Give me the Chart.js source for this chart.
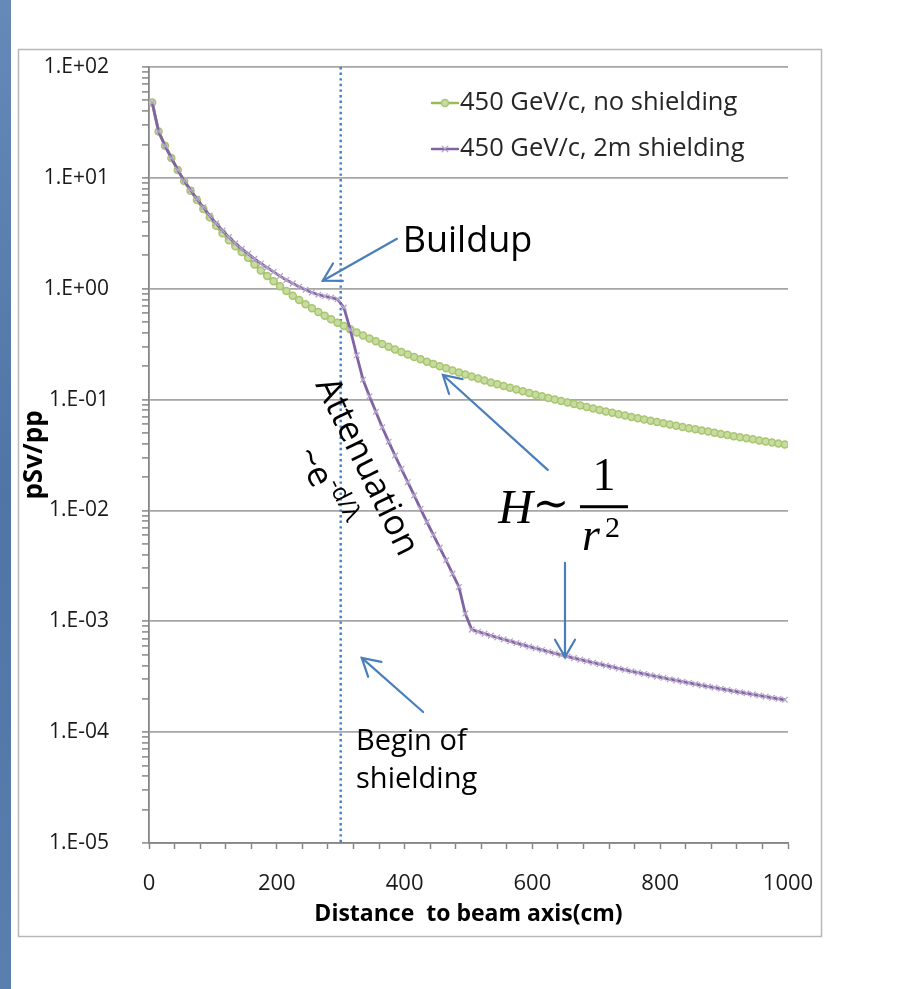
<!DOCTYPE html>
<html><head><meta charset="utf-8">
<script src="https://cdn.jsdelivr.net/npm/chart.js@4.4.1/dist/chart.umd.min.js"></script>
<style>html,body{margin:0;padding:0;background:#fff;}canvas{display:block;}</style>
</head><body>
<canvas id="c" width="900" height="989"></canvas>
<script>
// ---------- data ----------
const distances = [5,15,25,35,45,55,65,75,85,95,105,115,125,135,145,155,165,175,185,195,
205,215,225,235,245,255,265,275,285,295,305,315,325,335,345,355,365,375,385,395,
405,415,425,435,445,455,465,475,485,495,505,515,525,535,545,555,565,575,585,595,
605,615,625,635,645,655,665,675,685,695,705,715,725,735,745,755,765,775,785,795,
805,815,825,835,845,855,865,875,885,895,905,915,925,935,945,955,965,975,985,995];

const noShielding = [47.9,26.2,19.5,15.1,11.8,9.38,7.67,6.32,5.25,4.42,
3.70,3.16,2.74,2.41,2.14,1.90,1.651,1.461,1.301,1.167,
1.051,0.952,0.866,0.791,0.725,0.668,0.616,0.571,0.530,0.493,
0.460,0.430,0.403,0.379,0.356,0.336,0.317,0.2995,0.2834,0.2687,
0.2550,0.2425,0.2307,0.2198,0.2097,0.2002,0.1913,0.1831,0.1754,0.1680,
0.1612,0.1547,0.1487,0.1429,0.1376,0.1324,0.1276,0.1230,0.1187,0.1146,
0.1107,0.1070,0.1034,0.1001,0.0969,0.0939,0.0910,0.0882,0.0855,0.0830,
0.0805,0.0782,0.0760,0.0738,0.0718,0.0698,0.0679,0.0661,0.0644,0.0627,
0.0611,0.0596,0.0580,0.0566,0.0552,0.0539,0.0526,0.0514,0.0502,0.0490,
0.0479,0.0468,0.0458,0.0448,0.0438,0.0428,0.0419,0.0410,0.0402,0.0393];

const shielding2m = [47.9,26.2,19.5,15.1,11.8,9.4,7.76,6.46,5.43,4.57,
3.89,3.35,2.92,2.57,2.29,2.07,1.86,1.69,1.55,1.42,
1.30,1.20,1.117,1.042,0.977,0.925,0.883,0.855,0.832,0.804,
0.676,0.427,0.251,0.151,0.107,0.0776,0.0562,0.0417,0.0313,0.0237,
0.0180,0.01365,0.01035,0.00785,0.00603,0.00462,0.00355,0.00269,0.00204,0.001175,
0.000841,0.000806,0.000774,0.000743,0.000714,0.000687,0.000661,0.000636,0.000613,0.000591,
0.000570,0.000551,0.000532,0.000514,0.000497,0.000481,0.000465,0.000451,0.000437,0.000423,
0.000411,0.000398,0.000387,0.000375,0.000365,0.000354,0.000344,0.000335,0.000326,0.000317,
0.000309,0.000300,0.000293,0.000285,0.000278,0.000271,0.000264,0.000258,0.000252,0.000246,
0.000240,0.000234,0.000229,0.000224,0.000219,0.000214,0.000209,0.000204,0.000200,0.000196];

const seriesNames = ['450 GeV/c, no shielding', '450 GeV/c, 2m shielding'];
const xTickLabels = ['0','200','400','600','800','1000'];
const yTickValues = [1e-5,1e-4,1e-3,1e-2,1e-1,1e0,1e1,1e2];
const yTickLabels = ['1.E-05','1.E-04','1.E-03','1.E-02','1.E-01','1.E+00','1.E+01','1.E+02'];
const shieldBegin = 300;
const xTitle = 'Distance  to beam axis(cm)';
const yTitle = 'pSv/pp';

// ---------- chart ----------
Chart.defaults.font.family = "'Open Sans', 'DejaVu Sans', sans-serif";
Chart.defaults.color = '#111';

const C_GREEN = '#9bbb59', C_PURPLE = '#8064a2', C_ARROW = '#4a7ebb';

function isMajor(v){ const l = Math.log10(v); return Math.abs(l - Math.round(l)) < 1e-6; }
function yLabel(v){
  const i = yTickValues.findIndex(t => Math.abs(Math.log10(t) - Math.log10(v)) < 1e-6);
  return i >= 0 ? yTickLabels[i] : '';
}
const yAllTicks = [];
for (let e = -5; e <= 2; e++) {
  for (let s = 1; s <= 9; s++) { const v = s * Math.pow(10, e); if (v <= 100 + 1e-9) yAllTicks.push(v); if (e === 2) break; }
}

const bgPlugin = {
  id: 'bg',
  beforeDraw(chart) {
    const ctx = chart.ctx;
    ctx.save();
    ctx.fillStyle = '#ffffff';
    ctx.fillRect(0, 0, chart.width, chart.height);
    const g = ctx.createLinearGradient(0, 0, 0, chart.height);
    g.addColorStop(0, '#6689b8'); g.addColorStop(0.5, '#4f74a5'); g.addColorStop(1, '#5a7eae');
    ctx.fillStyle = g;
    ctx.fillRect(0, 0, 11, chart.height);
    ctx.strokeStyle = '#b8b8b8'; ctx.lineWidth = 1.5;
    ctx.strokeRect(18.5, 49.5, 803, 887);
    ctx.restore();
  },
  beforeDatasetsDraw(chart) {
    const ctx = chart.ctx, xs = chart.scales.x, ca = chart.chartArea;
    const x = xs.getPixelForValue(shieldBegin);
    ctx.save();
    ctx.strokeStyle = '#3f7fc9'; ctx.lineWidth = 2.4; ctx.setLineDash([2.4, 3.2]);
    ctx.beginPath(); ctx.moveTo(x, ca.top); ctx.lineTo(x, ca.bottom); ctx.stroke();
    ctx.restore();
  }
};

const arrows = [
  { from: [388, 2.82], to: [272, 1.18] },
  { from: [624, 0.0232], to: [460, 0.1667] },
  { from: [651, 0.00336], to: [651, 0.000476] },
  { from: [429, 0.000152], to: [333, 0.000468] }
];

const annotPlugin = {
  id: 'annot',
  afterDraw(chart) {
    const ctx = chart.ctx, xs = chart.scales.x, ys = chart.scales.y, ca = chart.chartArea;
    const P = (p) => [xs.getPixelForValue(p[0]), ys.getPixelForValue(p[1])];
    ctx.save();
    // arrows
    ctx.strokeStyle = C_ARROW; ctx.lineWidth = 2.2; ctx.lineCap = 'round';
    arrows.forEach(a => {
      const [sx, sy] = P(a.from), [tx, ty] = P(a.to);
      const th = Math.atan2(sy - ty, sx - tx), L = 20, w = Math.PI / 6;
      ctx.beginPath(); ctx.moveTo(sx, sy); ctx.lineTo(tx, ty); ctx.stroke();
      ctx.beginPath();
      ctx.moveTo(tx + L * Math.cos(th + w), ty + L * Math.sin(th + w));
      ctx.lineTo(tx, ty);
      ctx.lineTo(tx + L * Math.cos(th - w), ty + L * Math.sin(th - w));
      ctx.stroke();
    });
    // texts
    ctx.fillStyle = '#000';
    ctx.textBaseline = 'middle'; ctx.textAlign = 'left';
    let p = P([397, 2.65]);
    ctx.font = "36px 'Open Sans'"; ctx.fillText('Buildup', p[0], p[1]);
    ctx.font = "29px 'Open Sans'";
    p = P([324, 8.15e-5]); ctx.fillText('Begin of', p[0], p[1]);
    p = P([324, 3.7e-5]); ctx.fillText('shielding', p[0], p[1]);
    // Attenuation (rotated)
    p = P([340, 0.0247]);
    ctx.save(); ctx.translate(p[0], p[1]); ctx.rotate(64 * Math.PI / 180);
    ctx.textAlign = 'center'; ctx.font = "35px 'Open Sans'";
    ctx.fillText('Attenuation', 0, 0); ctx.restore();
    // ~e^{-d/λ} (rotated)
    p = P([273, 0.0163]);
    ctx.save(); ctx.translate(p[0], p[1]); ctx.rotate(63 * Math.PI / 180);
    ctx.textAlign = 'left'; ctx.textBaseline = 'alphabetic';
    ctx.font = "35px 'Open Sans'"; const w1 = ctx.measureText('~e').width;
    ctx.font = "24px 'Open Sans'"; const w2 = ctx.measureText('-d/λ').width;
    const x0 = -(w1 + w2) / 2;
    ctx.font = "35px 'Open Sans'"; ctx.fillText('~e', x0, 10);
    ctx.font = "24px 'Open Sans'"; ctx.fillText('-d/λ', x0 + w1 + 1, -5);
    ctx.restore();
    // H ~ 1/r^2
    p = P([712, 0.0108]);
    const cx = p[0], cy = p[1];
    ctx.textBaseline = 'alphabetic';
    ctx.fillRect(cx - 24, cy - 1.5, 48, 3);
    ctx.font = "46px 'Liberation Serif'"; ctx.textAlign = 'center';
    ctx.fillText('1', cx, cy - 17);
    ctx.font = "italic 46px 'Liberation Serif'"; ctx.textAlign = 'left';
    ctx.fillText('r', cx - 22, cy + 43);
    ctx.font = "30px 'Liberation Serif'";
    ctx.fillText('2', cx + 1, cy + 30);
    ctx.font = "italic 48px 'Liberation Serif'"; ctx.textAlign = 'right';
    ctx.fillText('H', cx - 71, cy + 16);
    ctx.font = "44px 'DejaVu Serif'"; ctx.textAlign = 'center'; ctx.textBaseline = 'middle';
    ctx.fillText('\u223C', cx - 53, cy);
    // legend
    const lx = ca.left + 283;
    const rows = [ca.top + 36, ca.top + 82];
    chart.data.datasets.forEach((ds, i) => {
      const y = rows[i];
      ctx.strokeStyle = ds.borderColor; ctx.lineWidth = 2.5; ctx.setLineDash([]);
      ctx.beginPath(); ctx.moveTo(lx, y); ctx.lineTo(lx + 26, y); ctx.stroke();
      if (Chart.helpers && Chart.helpers.drawPoint) {
        ctx.strokeStyle = ds.pointBorderColor; ctx.fillStyle = ds.pointBackgroundColor; ctx.lineWidth = ds.pointBorderWidth;
        Chart.helpers.drawPoint(ctx, { pointStyle: ds.pointStyle, radius: ds.pointRadius, rotation: 0, borderWidth: ds.pointBorderWidth }, lx + 13, y);
      }
      ctx.fillStyle = '#262626'; ctx.font = "25.5px 'Open Sans'"; ctx.textAlign = 'left'; ctx.textBaseline = 'middle';
      ctx.fillText(ds.label, lx + 28, y);
    });
    ctx.restore();
  }
};

new Chart(document.getElementById('c'), {
  type: 'line',
  data: {
    datasets: [
      {
        label: seriesNames[0],
        data: distances.map((d, i) => ({ x: d, y: noShielding[i] })),
        borderColor: C_GREEN, borderWidth: 3,
        pointStyle: 'circle', pointRadius: 3.5, pointBorderWidth: 1.5,
        pointBackgroundColor: '#c6dca0', pointBorderColor: '#a9c56f',
        order: 1, tension: 0
      },
      {
        label: seriesNames[1],
        data: distances.map((d, i) => ({ x: d, y: shielding2m[i] })),
        borderColor: C_PURPLE, borderWidth: 2.8,
        pointStyle: 'crossRot', pointRadius: 4, pointBorderWidth: 1.3,
        pointBackgroundColor: '#b7a6cc', pointBorderColor: '#b7a6cc',
        order: 0, tension: 0
      }
    ]
  },
  options: {
    responsive: false, animation: false, devicePixelRatio: 1,
    layout: { padding: { left: 17, top: 67, right: 112, bottom: 57 } },
    plugins: { legend: { display: false }, tooltip: { enabled: false } },
    scales: {
      x: {
        type: 'linear', min: 0, max: 1000,
        afterBuildTicks: s => { const t = []; for (let v = 0; v <= 1000; v += 40) t.push({ value: v }); s.ticks = t; },
        ticks: { autoSkip: false, maxRotation: 0, padding: 22, font: { size: 22 }, color: '#1a1a1a',
          callback: v => xTickLabels.includes(String(v)) ? String(v) : '' },
        grid: { drawOnChartArea: false, tickLength: 6, tickColor: '#868686', tickWidth: 1.5 },
        border: { color: '#868686', width: 1.8 },
        title: { display: true, text: xTitle, font: { size: 23, weight: 'bold' }, color: '#000', padding: { top: 4, bottom: 4 } },
        afterFit: s => { s.height = 89; }
      },
      y: {
        type: 'logarithmic', min: 1e-5, max: 100,
        afterBuildTicks: s => { s.ticks = yAllTicks.map(v => ({ value: v })); },
        ticks: { autoSkip: false, padding: 33, font: { size: 21 }, color: '#1a1a1a', callback: v => isMajor(v) ? yLabel(v) : '' },
        grid: {
          color: c => (c.tick && isMajor(c.tick.value)) ? '#a6a6a6' : 'rgba(0,0,0,0)',
          lineWidth: 1.8, tickLength: 7, tickColor: '#868686', tickWidth: 1.5
        },
        border: { color: '#868686', width: 1.8 },
        title: { display: true, text: yTitle, font: { size: 26, weight: 'bold' }, color: '#000', padding: { top: 2, bottom: 4 } },
        afterFit: s => { s.width = 132; }
      }
    }
  },
  plugins: [bgPlugin, annotPlugin]
});
</script>
</body></html>
